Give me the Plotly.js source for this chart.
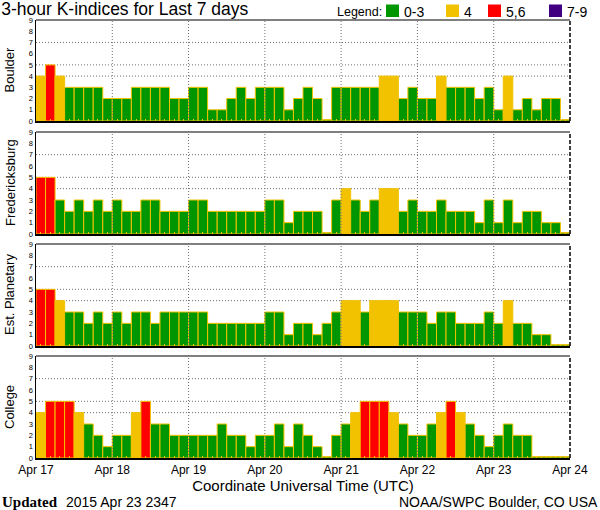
<!DOCTYPE html>
<html><head><meta charset="utf-8">
<script src="https://cdn.plot.ly/plotly-3.0.1.min.js"></script>
<style>html,body{margin:0;padding:0;background:#fff}#chart{width:600px;height:510px}</style>
</head><body><div id="chart"></div>
<script>
// ---- data ----
const days = ['2015-04-17','2015-04-18','2015-04-19','2015-04-20','2015-04-21','2015-04-22','2015-04-23','2015-04-24'];
const slotTimes = ['01:30','04:30','07:30','10:30','13:30','16:30','19:30','22:30'];
const stations = ['Boulder','Fredericksburg','Est. Planetary','College'];
const boulder = [4,5,4,3,3,3,3,2, 2,2,3,3,3,3,2,2, 3,3,1,1,2,3,2,3, 3,3,1,2,3,2,0,3, 3,3,3,3,4,4,2,3, 2,2,4,3,3,3,2,3, 1,4,1,2,1,2,2,0];
const fredericksburg = [5,5,3,2,3,2,3,2, 3,2,2,3,3,2,2,2, 3,3,2,2,2,2,2,2, 3,3,1,2,2,2,0,3, 4,3,2,3,4,4,2,3, 2,2,3,2,2,2,1,3, 1,3,1,2,2,1,1,0];
const planetary = [5,5,4,3,3,2,3,2, 3,2,3,3,2,3,3,3, 3,3,2,2,2,2,2,2, 3,3,1,2,2,1,2,3, 4,4,3,4,4,4,3,3, 3,2,3,3,2,2,2,3, 2,4,2,2,1,1,0,0];
const college = [4,5,5,5,4,3,2,1, 2,2,4,5,3,3,2,2, 2,2,2,3,2,2,1,2, 2,3,1,3,2,1,0,2, 3,4,5,5,5,4,3,2, 2,3,4,5,4,3,2,1, 2,3,2,2,0,0,0,0];
const series = [boulder, fredericksburg, planetary, college];
const yTicks = [0,1,2,3,4,5,6,7,8,9];
const gridLevels = [4,5,7];
const legendItems = ['0-3','4','5,6','7-9'];

// ---- styles ----
const GREEN = '#009600', YELLOW = '#f2c200', RED = '#ff0000', PURPLE = '#400080';
const legendColors = [GREEN, YELLOW, RED, PURPLE];
const FONT = 'Liberation Sans, Arial, sans-serif';
const colorFor = v => v <= 3 ? GREEN : (v === 4 ? YELLOW : (v <= 6 ? RED : PURPLE));
const MIN_VISIBLE = 0.12; // zero values are drawn as a thin sliver, as in the original
const DOT = '1px,2px';

const times = [];
days.slice(0, 7).forEach(d => slotTimes.forEach(t => times.push(d + ' ' + t)));

const domains = [[0.7694, 1], [0.5114, 0.7443], [0.2557, 0.4886], [0, 0.2329]];

const data = [];
const layout = {
  width: 600, height: 510,
  margin: {l: 36, r: 30, t: 20, b: 52},
  paper_bgcolor: '#fff', plot_bgcolor: '#fff',
  showlegend: false, bargap: 0,
  font: {family: FONT, color: '#000'},
  title: {text: '3-hour K-indices for Last 7 days', x: 0.002, xref: 'container', xanchor: 'left',
          y: 1 - 9/510, yref: 'container', yanchor: 'middle',
          font: {family: FONT, size: 17.5, color: '#000'}, pad: {l: 0}},
  shapes: [], annotations: []
};

series.forEach((vals, i) => {
  const n = i === 0 ? '' : String(i + 1);
  data.push({
    type: 'bar', x: times, y: vals.map(v => v === 0 ? MIN_VISIBLE : v),
    customdata: vals, hovertemplate: stations[i] + ' %{x}: K=%{customdata}<extra></extra>',
    xaxis: 'x' + n, yaxis: 'y' + n,
    marker: {color: vals.map(colorFor), line: {color: YELLOW, width: 1}}
  });
  const isBottom = i === series.length - 1;
  layout['xaxis' + n] = {
    type: 'date', range: [days[0], days[7]], anchor: 'y' + n,
    matches: i === 0 ? undefined : 'x',
    showgrid: false, zeroline: false,
    showline: true, linecolor: '#000', linewidth: 2,
    ticks: '', showticklabels: isBottom,
    tick0: days[0], dtick: 86400000, tickformat: '%b %d',
    tickfont: {family: FONT, size: 12, color: '#000'},
    minor: {ticks: 'inside', ticklen: 2, tickwidth: 1, tickcolor: YELLOW,
            dtick: 3 * 3600000, tick0: days[0] + ' 01:30', showgrid: false},
    title: isBottom ? {text: 'Coordinate Universal Time (UTC)', standoff: 4,
                       font: {family: FONT, size: 15, color: '#000'}} : {text: ''}
  };
  layout['yaxis' + n] = {
    domain: domains[i], range: [0, 9], anchor: 'x' + n,
    tickvals: yTicks, ticktext: yTicks.map(String), ticks: '',
    tickfont: {family: FONT, size: 7.5, color: '#000'},
    showgrid: false, zeroline: false,
    showline: true, linecolor: '#000', linewidth: 1.5,
    fixedrange: true
  };
  // top border
  layout.shapes.push({type: 'line', xref: 'x' + n + ' domain', yref: 'y' + n + ' domain',
    x0: 0, x1: 1, y0: 1, y1: 1, line: {color: '#000', width: 1.2}, layer: 'above'});
  // right dashed border
  layout.shapes.push({type: 'line', xref: 'x' + n + ' domain', yref: 'y' + n + ' domain',
    x0: 1, x1: 1, y0: 0, y1: 1, line: {color: '#000', width: 1.5, dash: '4px,2px'}, layer: 'above'});
  // horizontal dotted levels
  gridLevels.forEach(g => layout.shapes.push({type: 'line', xref: 'x' + n + ' domain', yref: 'y' + n,
    x0: 0, x1: 1, y0: g, y1: g, line: {color: '#707070', width: 1, dash: DOT}, layer: 'below'}));
  // vertical dotted day lines
  days.slice(1, 7).forEach(d => layout.shapes.push({type: 'line', xref: 'x' + n, yref: 'y' + n + ' domain',
    x0: d, x1: d, y0: 0, y1: 1, line: {color: '#707070', width: 1, dash: DOT}, layer: 'above'}));
  // station label
  layout.annotations.push({text: stations[i], xref: 'paper', yref: 'paper',
    x: -26/534, y: (domains[i][0] + domains[i][1]) / 2, xanchor: 'center', yanchor: 'middle',
    textangle: -90, showarrow: false, font: {family: FONT, size: 13, color: '#000'}});
});

// legend
const pxX = x => (x - 36) / 534;
const pxY = y => (458 - y) / 438;
layout.annotations.push({text: 'Legend:', xref: 'paper', yref: 'paper', x: pxX(336), y: pxY(12),
  xanchor: 'left', yanchor: 'middle', showarrow: false, borderpad: 0,
  font: {family: FONT, size: 12.5, color: '#000'}});
const boxLeft = [386, 446, 488, 549];
legendItems.forEach((lab, k) => {
  layout.shapes.push({type: 'rect', xref: 'paper', yref: 'paper',
    x0: pxX(boxLeft[k]), x1: pxX(boxLeft[k] + 13), y0: pxY(17), y1: pxY(4.5),
    fillcolor: legendColors[k], line: {width: 0}});
  layout.annotations.push({text: lab, xref: 'paper', yref: 'paper', x: pxX(boxLeft[k] + 17), y: pxY(12),
    xanchor: 'left', yanchor: 'middle', showarrow: false, borderpad: 0,
    font: {family: FONT, size: 14, color: '#000'}});
});

// footer
layout.annotations.push({text: '<b>Updated</b>', xref: 'paper', yref: 'paper', x: pxX(0), y: pxY(502),
  xanchor: 'left', yanchor: 'middle', showarrow: false,
  font: {family: 'Liberation Serif, DejaVu Serif, serif', size: 15, color: '#000'}});
layout.annotations.push({text: '2015 Apr 23 2347', xref: 'paper', yref: 'paper', x: pxX(64), y: pxY(502),
  xanchor: 'left', yanchor: 'middle', showarrow: false, font: {family: FONT, size: 14, color: '#000'}});
layout.annotations.push({text: 'NOAA/SWPC Boulder, CO USA', xref: 'paper', yref: 'paper', x: pxX(600), y: pxY(502),
  xanchor: 'right', yanchor: 'middle', showarrow: false, font: {family: FONT, size: 14, color: '#000'}});

Plotly.newPlot('chart', data, layout, {displayModeBar: false, staticPlot: true});
</script>
</body></html>
